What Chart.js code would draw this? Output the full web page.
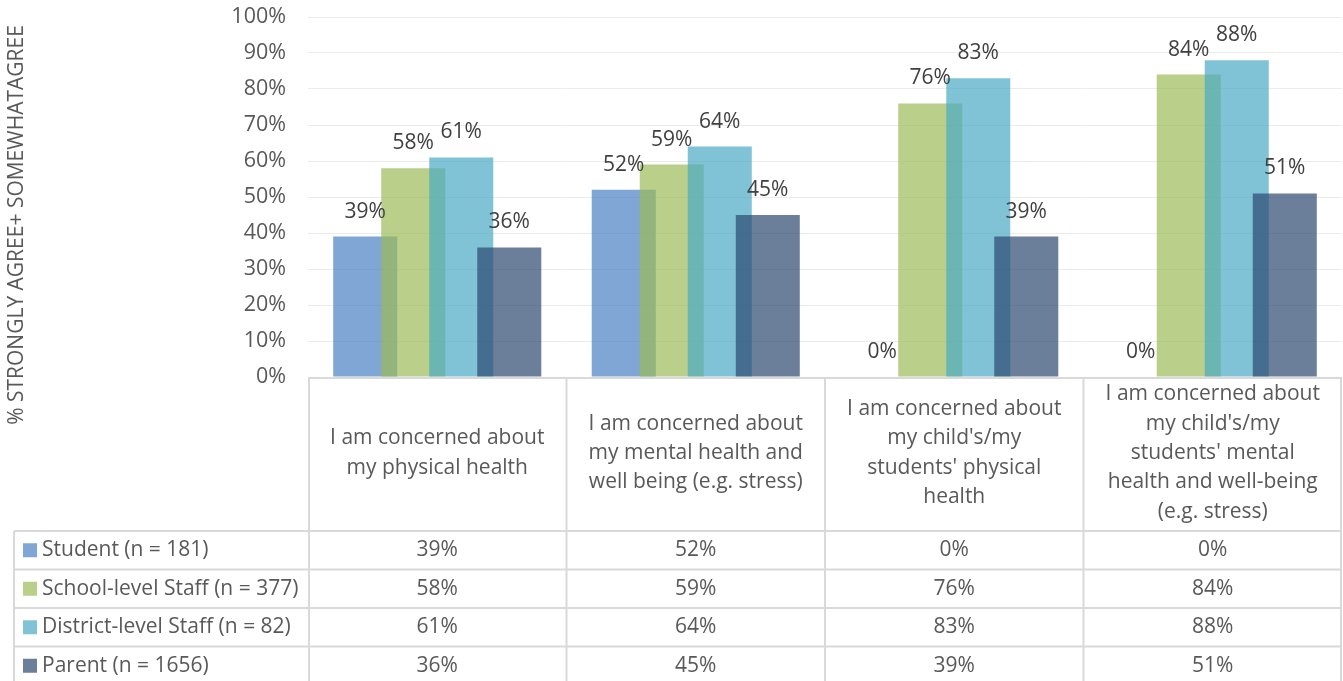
<!DOCTYPE html>
<html><head><meta charset="utf-8">
<script src="https://cdn.jsdelivr.net/npm/chart.js@4"></script>
<style>html,body{margin:0;padding:0;background:#fff;overflow:hidden}#wrap{width:1343px;height:681px;position:relative}</style>
</head><body><div id="wrap"><canvas id="c" width="1343" height="681"></canvas></div>
<script>
// ---- data ----
const categories = [
  ["I am concerned about", "my physical health"],
  ["I am concerned about", "my mental health and", "well being (e.g. stress)"],
  ["I am concerned about", "my child's/my", "students' physical", "health"],
  ["I am concerned about", "my child's/my", "students' mental", "health and well-being", "(e.g. stress)"]
];
const seriesNames = ["Student (n = 181)", "School-level Staff (n = 377)", "District-level Staff (n = 82)", "Parent (n = 1656)"];
const studentValues = [39, 52, 0, 0];
const schoolStaffValues = [58, 59, 76, 84];
const districtStaffValues = [61, 64, 83, 88];
const parentValues = [36, 45, 39, 51];
const yTickValues = [0, 10, 20, 30, 40, 50, 60, 70, 80, 90, 100];
const yAxisTitle = "% STRONGLY AGREE+ SOMEWHATAGREE";

// ---- styles ----
const FONT = "'Open Sans', sans-serif";
const seriesColors = ["rgba(72,128,194,0.7)", "rgba(155,187,89,0.7)", "rgba(74,169,197,0.7)", "rgba(44,72,112,0.7)"];
const TEXT = "#595959", LABEL = "#404040", LINE = "#d9d9d9";
const HEADER_H = 154, ROW_H = 38.5, LEGEND_LEFT = 14;

const tablePlugin = {
  id: 'excelTable',
  beforeDatasetsDraw(chart) {
    for (let i = 0; i < chart.data.datasets.length; i++) {
      const meta = chart.getDatasetMeta(i);
      if (!meta.hidden) meta.controller.draw();
    }
    return false;
  },
  afterDraw(chart) {
    const ctx = chart.ctx, xs = chart.scales.x, area = chart.chartArea;
    const n = chart.data.labels.length;
    const colW = (area.right - area.left) / n;
    const H = chart.height;
    const headerBottom = area.bottom + HEADER_H;
    ctx.save();
    // data labels
    ctx.font = "21px " + FONT;
    ctx.fillStyle = LABEL;
    ctx.textAlign = 'center';
    ctx.textBaseline = 'middle';
    chart.data.datasets.forEach((ds, i) => {
      const meta = chart.getDatasetMeta(i);
      meta.data.forEach((el, j) => {
        ctx.fillText(ds.data[j] + '%', el.x, el.y - 25);
      });
    });
    // grid lines of table
    ctx.strokeStyle = LINE;
    ctx.lineWidth = 2;
    ctx.beginPath();
    ctx.moveTo(area.left, area.bottom + 1); ctx.lineTo(area.right, area.bottom + 1);
    for (let k = 0; k <= n; k++) {
      const ex = area.left + k * colW + (k === 0 ? 1 : 0) - (k === n ? 1 : 0);
      ctx.moveTo(ex, area.bottom); ctx.lineTo(ex, H);
    }
    ctx.moveTo(LEGEND_LEFT, headerBottom); ctx.lineTo(LEGEND_LEFT, H);
    for (let r = 0; r <= chart.data.datasets.length; r++) {
      const yy = headerBottom + r * ROW_H;
      ctx.moveTo(LEGEND_LEFT, yy); ctx.lineTo(area.right, yy);
    }
    ctx.stroke();
    // header category labels
    ctx.fillStyle = TEXT;
    ctx.font = "21px " + FONT;
    const lh = 29.3;
    chart.data.labels.forEach((lines, i) => {
      const cx = xs.getPixelForValue(i);
      const cy = area.bottom + HEADER_H / 2 - 1;
      const y0 = cy - (lines.length - 1) * lh / 2;
      lines.forEach((t, k) => ctx.fillText(t, cx, y0 + k * lh));
    });
    // rows
    chart.data.datasets.forEach((ds, r) => {
      const cy = headerBottom + r * ROW_H + ROW_H / 2;
      ctx.fillStyle = ds.backgroundColor;
      ctx.fillRect(23, cy - 7, 14, 14);
      ctx.fillStyle = TEXT;
      ctx.textAlign = 'left';
      ctx.fillText(ds.label, 42, cy);
      ctx.textAlign = 'center';
      ds.data.forEach((v, j) => ctx.fillText(v + '%', xs.getPixelForValue(j), cy));
    });
    // y axis title
    ctx.translate(17, 225);
    ctx.rotate(-Math.PI / 2);
    ctx.fillStyle = TEXT;
    ctx.font = "21px " + FONT;
    ctx.textAlign = 'center';
    ctx.fillText(yAxisTitle, 0, 0);
    ctx.restore();
  }
};

const values = [studentValues, schoolStaffValues, districtStaffValues, parentValues];
new Chart(document.getElementById('c'), {
  type: 'bar',
  data: {
    labels: categories,
    datasets: seriesNames.map((name, i) => ({
      label: name,
      data: values[i],
      backgroundColor: seriesColors[i],
      borderWidth: 0,
      categoryPercentage: 0.743,
      barPercentage: 1.3333
    }))
  },
  options: {
    responsive: false,
    animation: false,
    devicePixelRatio: 1,
    layout: { padding: { top: 17, right: 1, bottom: 304, left: 0 } },
    plugins: { legend: { display: false }, tooltip: { enabled: false } },
    scales: {
      x: { display: false },
      y: {
        min: 0, max: 100,
        afterFit(scale) { scale.width = 308; scale.paddingTop = 0; scale.paddingBottom = 0; },
        afterBuildTicks(scale) { scale.ticks = yTickValues.map(v => ({ value: v })); },
        ticks: { callback: v => v + '%', color: TEXT, font: { family: FONT, size: 21.5 }, padding: 22 },
        grid: { color: '#ececec', drawTicks: false },
        border: { display: false }
      }
    }
  },
  plugins: [tablePlugin]
});
</script></body></html>
